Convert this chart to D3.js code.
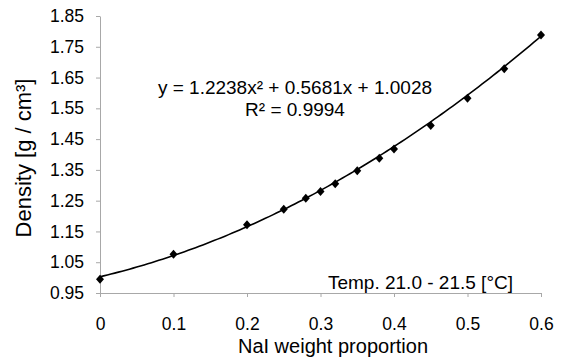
<!DOCTYPE html>
<html>
<head>
<meta charset="utf-8">
<script src="https://cdn.jsdelivr.net/npm/d3@7"></script>
<style>
  body { margin: 0; background: #fff; }
  text { font-family: "Liberation Sans", Arial, sans-serif; fill: #000; }
</style>
</head>
<body>
<div id="vis"></div>
<script>
// measured NaI solution densities
var naiWeight = [0, 0.1, 0.2, 0.25, 0.28, 0.3, 0.32, 0.35, 0.38, 0.4, 0.45, 0.5, 0.55, 0.6];
var density   = [0.995, 1.076, 1.172, 1.222, 1.258, 1.280, 1.305, 1.347, 1.388, 1.418, 1.494, 1.583, 1.679, 1.788];

// trendline coefficients shown on chart: c0 + c1*x + c2*x^2
var trendCoef = [1.0028, 0.5681, 1.2238];
var trendLabel = 'y = 1.2238x² + 0.5681x + 1.0028';
var r2Label = 'R² = 0.9994';

var xTicks = [0, 0.1, 0.2, 0.3, 0.4, 0.5, 0.6];
var yTicks = [0.95, 1.05, 1.15, 1.25, 1.35, 1.45, 1.55, 1.65, 1.75, 1.85];

var W = 566, H = 358;
var margin = {left: 100, right: 25, top: 16, bottom: 65};

var svg = d3.select('#vis')
    .append('svg')
        .attr('width', W)
        .attr('height', H);

var x = d3.scaleLinear()
    .domain([0, 0.6])
    .range([margin.left, W - margin.right]);

var y = d3.scaleLinear()
    .domain([0.95, 1.85])
    .range([H - margin.bottom, margin.top]);

// axes
var gx = svg.append('g')
    .attr('transform', 'translate(0,' + y(0.95) + ')')
    .call(d3.axisBottom(x).tickValues(xTicks).tickSize(4).tickSizeOuter(0).tickPadding(21)
        .tickFormat(d3.format('')));
var gy = svg.append('g')
    .attr('transform', 'translate(' + x(0) + ',0)')
    .call(d3.axisLeft(y).tickValues(yTicks).tickSize(4).tickSizeOuter(0).tickPadding(12)
        .tickFormat(d3.format('.2f')));

[gx, gy].forEach(function(g) {
    g.select('.domain').attr('stroke', '#a8a8a8');
    g.selectAll('.tick line').attr('stroke', '#a8a8a8');
    g.selectAll('.tick text')
        .attr('fill', '#000')
        .style('font-size', '17.5px')
        .style('font-family', '"Liberation Sans", Arial, sans-serif');
});

// trendline
var curveX = d3.range(0, 0.6001, 0.005);
var line = d3.line()
    .x(function(d) { return x(d) })
    .y(function(d) { return y(trendCoef[0] + trendCoef[1] * d + trendCoef[2] * d * d) });
svg.append('path')
    .datum(curveX)
    .attr('d', line)
    .attr('fill', 'none')
    .attr('stroke', '#000')
    .attr('stroke-width', 1.6);

// data points (diamonds)
svg.append('g')
    .selectAll('path')
    .data(naiWeight)
    .enter()
    .append('path')
        .attr('transform', function(d, i) { return 'translate(' + x(d) + ',' + y(density[i]) + ')' })
        .attr('d', 'M0,-4.5L4,0L0,4.5L-4,0Z')
        .attr('fill', '#000');

// labels
svg.append('text')
    .attr('x', 295).attr('y', 94)
    .attr('text-anchor', 'middle')
    .style('font-size', '19px')
    .text(trendLabel);
svg.append('text')
    .attr('x', 295).attr('y', 116)
    .attr('text-anchor', 'middle')
    .style('font-size', '19px')
    .text(r2Label);

svg.append('text')
    .attr('x', 513).attr('y', 289)
    .attr('text-anchor', 'end')
    .style('font-size', '19px')
    .text('Temp. 21.0 - 21.5 [°C]');

svg.append('text')
    .attr('x', 333).attr('y', 353)
    .attr('text-anchor', 'middle')
    .style('font-size', '20px')
    .text('NaI weight proportion');

svg.append('text')
    .attr('transform', 'translate(31,158) rotate(-90)')
    .attr('text-anchor', 'middle')
    .style('font-size', '22px')
    .text('Density [g / cm³]');
</script>
</body>
</html>
